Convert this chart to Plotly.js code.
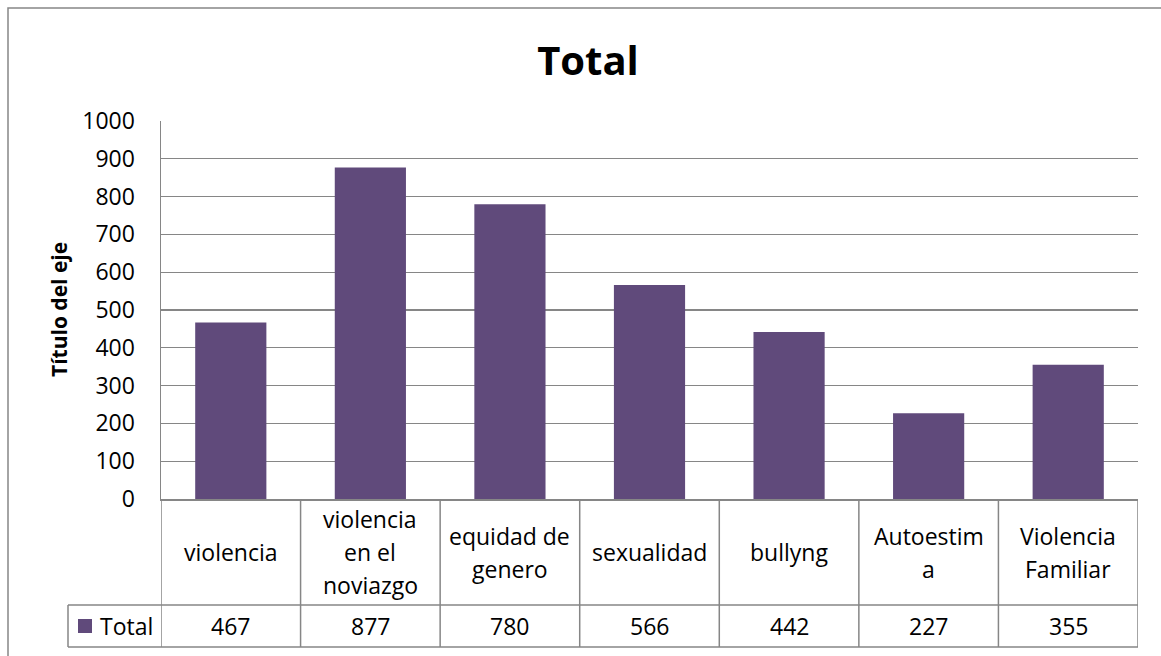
<!DOCTYPE html>
<html>
<head>
<meta charset="utf-8">
<script src="https://cdn.plot.ly/plotly-3.0.1.min.js"></script>
<style>html,body{margin:0;padding:0;background:#fff;}#chart{width:1161px;height:656px;}</style>
</head>
<body>
<div id="chart"></div>
<script>
// ---- data ----
const categories = ["violencia", "violencia<br>en el<br>noviazgo", "equidad de<br>genero", "sexualidad", "bullyng", "Autoestim<br>a", "Violencia<br>Familiar"];
const totals = [467, 877, 780, 566, 442, 227, 355];
const seriesName = "Total";
const chartTitle = "Total";
const yAxisTitle = "Título del eje";
const yTicks = [0, 100, 200, 300, 400, 500, 600, 700, 800, 900, 1000];

// ---- geometry (px) ----
const W = 1161, H = 656;
const L = 161, R = 1138, T = 121, B = 499;
const pw = R - L, ph = B - T;
const px2x = p => (p - L) / pw;
const px2y = p => (B - p) / ph;
const rowCatBottom = 605, rowValBottom = 647, legendLeft = 68;
const lineCol = "#868686";
const barCol = "#604A7B";
const font = "Open Sans, Liberation Sans, sans-serif";

const xs = categories.map((c, i) => i);
const shapes = [];
const annotations = [];
const n = categories.length;

// outer chart border (extends beyond the visible frame)
shapes.push({type: "rect", xref: "paper", yref: "paper", x0: px2x(8), x1: px2x(W + 20), y0: px2y(H + 20), y1: px2y(8), line: {color: lineCol, width: 1.5}, fillcolor: "rgba(0,0,0,0)", layer: "below"});

// data table horizontal lines
[rowCatBottom, rowValBottom].forEach(py => {
  shapes.push({type: "line", xref: "paper", yref: "paper", x0: px2x(legendLeft), x1: 1, y0: px2y(py), y1: px2y(py), line: {color: lineCol, width: 1.5}});
});
// vertical lines at category boundaries (through both rows)
for (let k = 0; k <= n; k++) {
  shapes.push({type: "line", xref: "x", yref: "paper", x0: k - 0.5, x1: k - 0.5, y0: px2y(B), y1: px2y(rowValBottom), line: {color: lineCol, width: 1.5}});
}
// legend cell left border
shapes.push({type: "line", xref: "paper", yref: "paper", x0: px2x(legendLeft), x1: px2x(legendLeft), y0: px2y(rowCatBottom), y1: px2y(rowValBottom), line: {color: lineCol, width: 1.5}});
// legend key square
shapes.push({type: "rect", xref: "paper", yref: "paper", x0: px2x(78), x1: px2x(92), y0: px2y(633), y1: px2y(619), line: {width: 0}, fillcolor: barCol});
annotations.push({xref: "paper", yref: "paper", x: px2x(126), y: px2y(626), text: seriesName, showarrow: false, xanchor: "center", yanchor: "middle", font: {family: font, size: 23, color: "#000"}});

// category labels and values
const lineStep = 33;
const catMid = (B + rowCatBottom) / 2;
categories.forEach((c, i) => {
  const lines = c.split("<br>");
  lines.forEach((ln, j) => {
    const cy = catMid + (j - (lines.length - 1) / 2) * lineStep;
    annotations.push({xref: "x", yref: "paper", x: i, y: px2y(cy), text: ln, showarrow: false, xanchor: "center", yanchor: "middle", font: {family: font, size: 23, color: "#000"}});
  });
  annotations.push({xref: "x", yref: "paper", x: i, y: px2y((rowCatBottom + rowValBottom) / 2), text: String(totals[i]), showarrow: false, xanchor: "center", yanchor: "middle", font: {family: font, size: 23, color: "#000"}});
});

// y axis title
annotations.push({xref: "paper", yref: "paper", x: px2x(59), y: px2y(310), text: "<b>" + yAxisTitle + "</b>", textangle: -90, showarrow: false, xanchor: "center", yanchor: "middle", font: {family: font, size: 21, color: "#000"}});

const trace = {
  type: "bar",
  x: xs,
  y: totals,
  name: seriesName,
  marker: {color: barCol, line: {width: 0}},
  hoverinfo: "y"
};

const layout = {
  width: W, height: H,
  margin: {l: L, r: W - R, t: T, b: H - B, pad: 0},
  paper_bgcolor: "#fff",
  plot_bgcolor: "#fff",
  showlegend: false,
  bargap: 0.49,
  title: {text: "<b>" + chartTitle + "</b>", xref: "container", yref: "container", x: 588 / W, y: 1 - 61 / H, xanchor: "center", yanchor: "middle", font: {family: font, size: 40, color: "#000"}},
  xaxis: {
    range: [-0.5, n - 0.5],
    showticklabels: false, ticks: "", showgrid: false, zeroline: false,
    showline: true, linecolor: lineCol, linewidth: 1.5, fixedrange: true
  },
  yaxis: {
    range: [0, 1000], tickvals: yTicks, ticktext: yTicks.map(String),
    showgrid: true, gridcolor: lineCol, gridwidth: 1.3,
    zeroline: false, showline: true, linecolor: lineCol, linewidth: 1.5,
    ticks: "", ticklabelstandoff: 20,
    tickfont: {family: font, size: 23, color: "#000"}, fixedrange: true
  },
  shapes: shapes,
  annotations: annotations
};

Plotly.newPlot("chart", [trace], layout, {displayModeBar: false, staticPlot: true});
</script>
</body>
</html>
